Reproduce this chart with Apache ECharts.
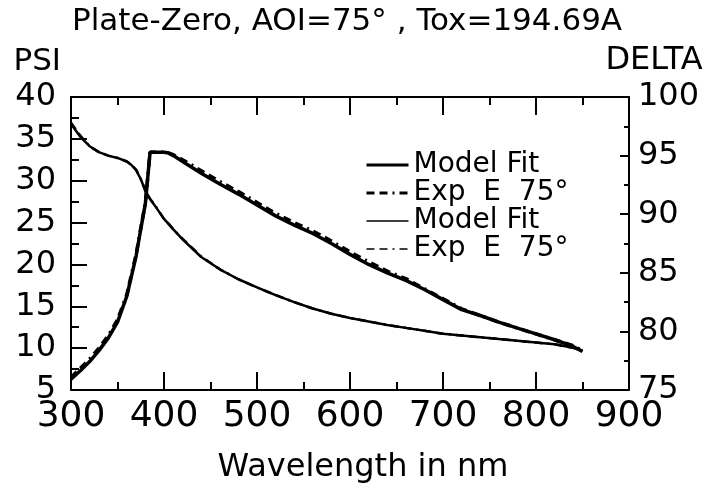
<!DOCTYPE html>
<html>
<head>
<meta charset="utf-8">
<script src="https://cdn.jsdelivr.net/npm/echarts@6/dist/echarts.min.js"></script>
<style>
  html, body { margin: 0; padding: 0; background: #fff; }
  #chart { width: 709px; height: 489px; }
</style>
</head>
<body>
<div id="chart"></div>
<script>
// wavelength in nm, shared by all four curves
const wavelength = [300, 310, 320, 330, 340, 350, 360, 365, 370, 375, 380, 385, 390, 400, 405, 410, 420, 440, 460, 480, 500, 520, 540, 560, 580, 600, 620, 640, 660, 680, 700, 720, 740, 760, 780, 800, 820, 840, 850];

// PSI (left axis)
const psiFit = [6.3, 7.3, 8.4, 9.7, 11.2, 13.1, 16.2, 18.6, 21.0, 24.2, 27.3, 33.4, 33.4, 33.4, 33.3, 33.0, 32.3, 30.9, 29.6, 28.4, 27.1, 25.8, 24.7, 23.7, 22.5, 21.2, 20.0, 19.0, 18.1, 17.0, 15.8, 14.6, 13.9, 13.1, 12.4, 11.7, 11.0, 10.2, 9.6];
const psiExp = [6.5, 7.6, 8.7, 10.0, 11.5, 13.4, 16.4, 18.8, 21.2, 24.3, 27.4, 33.4, 33.4, 33.4, 33.3, 33.1, 32.5, 31.2, 29.9, 28.7, 27.4, 26.1, 25.0, 24.0, 22.8, 21.5, 20.3, 19.2, 18.3, 17.1, 15.9, 14.7, 13.9, 13.1, 12.4, 11.7, 11.0, 10.3, 9.7];

// DELTA (right axis)
const deltaFit = [97.7, 96.6, 95.8, 95.3, 95.0, 94.8, 94.5, 94.2, 93.75, 93.0, 92.0, 91.3, 90.75, 89.6, 89.15, 88.7, 87.85, 86.35, 85.3, 84.45, 83.75, 83.1, 82.5, 81.95, 81.5, 81.15, 80.85, 80.55, 80.3, 80.05, 79.8, 79.65, 79.5, 79.35, 79.2, 79.05, 78.9, 78.6, 78.35];
const deltaExp = [97.8, 96.7, 95.8, 95.3, 95.0, 94.8, 94.5, 94.2, 93.8, 93.0, 92.0, 91.3, 90.8, 89.6, 89.2, 88.7, 87.9, 86.4, 85.3, 84.45, 83.75, 83.1, 82.5, 81.95, 81.5, 81.15, 80.85, 80.55, 80.3, 80.05, 79.8, 79.65, 79.5, 79.35, 79.2, 79.05, 78.9, 78.6, 78.35];

const xTicks = { min: 300, max: 900, interval: 100 };
const psiTicks = { min: 5, max: 40, interval: 5 };
const deltaTicks = { min: 75, max: 100, interval: 5 };

const FONT = 'DejaVu Sans';
const INK = '#000';
const DASH = [8, 5, 8, 5, 2, 5];

const pairs = (ys) => wavelength.map((w, i) => [w, ys[i]]);

const chart = echarts.init(document.getElementById('chart'), null, { renderer: 'canvas' });

const lineSeries = (name, data, yIndex, width, dashed) => ({
  name: name,
  type: 'line',
  yAxisIndex: yIndex,
  data: data,
  symbol: 'none',
  animation: false,
  lineStyle: {
    color: INK,
    width: width,
    type: dashed ? DASH : 'solid'
  },
  itemStyle: { color: INK },
  z: dashed ? 3 : 2
});

// plotter-style legend labels: strip the axis prefix, wide gaps in "Exp  E  75°"
const legendLabel = (name) => name.replace(/^(PSI|DELTA) /, '').replace('Exp E 75°', 'Exp  E  75°');

const option = {
  backgroundColor: '#fff',
  animation: false,
  title: {
    text: 'Plate-Zero, AOI=75° , Tox=194.69A',
    left: 342,
    top: 1,
    textAlign: 'center',
    textStyle: { fontFamily: FONT, fontSize: 31, fontWeight: 'normal', color: INK }
  },
  legend: {
    orient: 'vertical',
    left: 360,
    top: 146,
    itemWidth: 42,
    itemHeight: 10,
    itemGap: 0,
    itemStyle: { opacity: 0 },
    data: [
      { name: 'PSI Model Fit', lineStyle: { width: 3, type: 'solid' } },
      { name: 'PSI Exp E 75°', lineStyle: { width: 3, type: DASH } },
      { name: 'DELTA Model Fit', lineStyle: { width: 1.5, type: 'solid' } },
      { name: 'DELTA Exp E 75°', lineStyle: { width: 1.5, type: DASH } }
    ],
    formatter: legendLabel,
    textStyle: { fontFamily: FONT, fontSize: 28, color: INK, lineHeight: 28 },
    selectedMode: false
  },
  grid: { left: 71, right: 80, top: 97, bottom: 84 },
  xAxis: [
    {
      type: 'value',
      position: 'bottom',
      min: xTicks.min, max: xTicks.max, interval: xTicks.interval,
      name: 'Wavelength in nm',
      nameLocation: 'middle',
      nameGap: 62,
      nameTextStyle: { fontFamily: FONT, fontSize: 32, color: INK, padding: [0, 0, 0, 26] },
      axisLine: { show: true, lineStyle: { color: INK, width: 2 } },
      axisTick: { show: true, inside: true, length: 18, lineStyle: { color: INK, width: 2 } },
      minorTick: { show: true, splitNumber: 2, length: 8, lineStyle: { color: INK, width: 2 } },
      axisLabel: { fontFamily: FONT, fontSize: 36, color: INK, margin: 9 },
      splitLine: { show: false }
    },
    {
      type: 'value',
      position: 'top',
      min: xTicks.min, max: xTicks.max, interval: xTicks.interval,
      axisLine: { show: true, lineStyle: { color: INK, width: 2 } },
      axisTick: { show: true, inside: true, length: 18, lineStyle: { color: INK, width: 2 } },
      minorTick: { show: true, splitNumber: 2, length: 8, lineStyle: { color: INK, width: 2 } },
      axisLabel: { show: false },
      splitLine: { show: false }
    }
  ],
  yAxis: [
    {
      type: 'value',
      position: 'left',
      min: psiTicks.min, max: psiTicks.max, interval: psiTicks.interval,
      name: 'PSI',
      nameLocation: 'end',
      nameGap: 20,
      nameTextStyle: { fontFamily: FONT, fontSize: 31, color: INK, align: 'right', padding: [0, 10, 0, 0] },
      axisLine: { show: true, lineStyle: { color: INK, width: 2 } },
      axisTick: { show: true, inside: true, length: 16, lineStyle: { color: INK, width: 2 } },
      minorTick: { show: true, splitNumber: 2, length: 8, lineStyle: { color: INK, width: 2 } },
      axisLabel: { fontFamily: FONT, fontSize: 32, color: INK, margin: 15 },
      splitLine: { show: false }
    },
    {
      type: 'value',
      position: 'right',
      min: deltaTicks.min, max: deltaTicks.max, interval: deltaTicks.interval,
      name: 'DELTA',
      nameLocation: 'end',
      nameGap: 20,
      nameTextStyle: { fontFamily: FONT, fontSize: 32, color: INK, align: 'center', padding: [0, 0, 0, 50] },
      axisLine: { show: true, lineStyle: { color: INK, width: 2 } },
      axisTick: { show: true, inside: true, length: 9, lineStyle: { color: INK, width: 2 } },
      minorTick: { show: true, splitNumber: 2, length: 5, lineStyle: { color: INK, width: 2 } },
      axisLabel: { fontFamily: FONT, fontSize: 32, color: INK, margin: 9 },
      splitLine: { show: false }
    }
  ],
  series: [
    lineSeries('PSI Model Fit', pairs(psiFit), 0, 3.5, false),
    lineSeries('PSI Exp E 75°', pairs(psiExp), 0, 3.5, true),
    lineSeries('DELTA Model Fit', pairs(deltaFit), 1, 2.5, false),
    lineSeries('DELTA Exp E 75°', pairs(deltaExp), 1, 2.5, true)
  ]
};

chart.setOption(option);
</script>
</body>
</html>
